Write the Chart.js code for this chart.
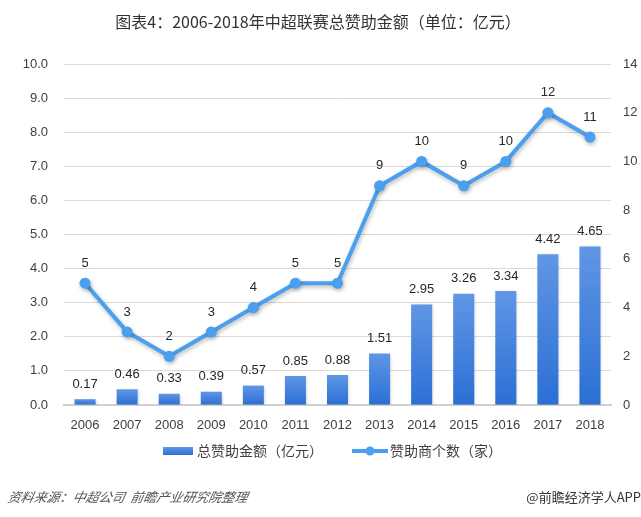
<!DOCTYPE html>
<html>
<head>
<meta charset="utf-8">
<script src="https://cdn.jsdelivr.net/npm/chart.js@4.4.1/dist/chart.umd.min.js"></script>
<style>
  html, body { margin: 0; padding: 0; background: #ffffff; }
  #wrap { width: 641px; height: 517px; position: relative; }
</style>
</head>
<body>
<div id="wrap"><canvas id="c" width="641" height="517"></canvas></div>
<script>
// ---- data ----
const categories = ['2006','2007','2008','2009','2010','2011','2012','2013','2014','2015','2016','2017','2018'];
const sponsorAmount = [0.17, 0.46, 0.33, 0.39, 0.57, 0.85, 0.88, 1.51, 2.95, 3.26, 3.34, 4.42, 4.65];
const sponsorCount = [5, 3, 2, 3, 4, 5, 5, 9, 10, 9, 10, 12, 11];
const leftTickValues = [0,1,2,3,4,5,6,7,8,9,10];
const rightTickValues = [0,2,4,6,8,10,12,14];
const titleText = '图表4：2006-2018年中超联赛总赞助金额（单位：亿元）';
const barLabel = '总赞助金额（亿元）';
const lineLabel = '赞助商个数（家）';
const sourceText = '资料来源：中超公司  前瞻产业研究院整理';
const brandText = '@前瞻经济学人APP';

const FONT = '"Liberation Sans", Arial, "Noto Sans CJK SC", sans-serif';
const CJK = '"Noto Sans CJK SC", "Liberation Sans", sans-serif';
const BAR_TOP = '#6096e5';
const BAR_BOT = '#2b6fd5';
const LINE_COLOR = '#4a9fee';

function barGradient(ctx) {
  const chart = ctx.chart;
  const y = chart.scales && chart.scales.y;
  if (!y || ctx.raw === undefined || !chart.chartArea) return BAR_BOT;
  const top = y.getPixelForValue(ctx.raw);
  const base = y.getPixelForValue(0);
  if (!isFinite(top) || !isFinite(base) || top === base) return BAR_BOT;
  const g = chart.ctx.createLinearGradient(0, top, 0, base);
  g.addColorStop(0, BAR_TOP);
  g.addColorStop(1, BAR_BOT);
  return g;
}

const decorPlugin = {
  id: 'decor',
  beforeDatasetDraw(chart, args) {
    const c = chart.ctx;
    c.save();
    if (args.index === 1) {
      c.shadowColor = 'rgba(0,0,0,0.28)';
      c.shadowBlur = 4;
      c.shadowOffsetX = 1;
      c.shadowOffsetY = 2;
    } else {
      c.shadowColor = 'rgba(0,0,0,0.18)';
      c.shadowBlur = 3;
      c.shadowOffsetX = 1;
      c.shadowOffsetY = 1;
    }
  },
  afterDatasetDraw(chart) {
    chart.ctx.restore();
  },
  afterDatasetsDraw(chart) {
    const c = chart.ctx;
    c.save();
    c.fillStyle = '#262626';
    c.font = '13px ' + FONT;
    c.textAlign = 'center';
    c.textBaseline = 'middle';
    const barMeta = chart.getDatasetMeta(0);
    barMeta.data.forEach((el, i) => {
      c.fillText(sponsorAmount[i].toFixed(2), el.x, el.y - 15);
    });
    const lineMeta = chart.getDatasetMeta(1);
    lineMeta.data.forEach((el, i) => {
      c.fillText(String(sponsorCount[i]), el.x, el.y - 20);
    });
    c.restore();
  },
  afterDraw(chart) {
    const c = chart.ctx;
    c.save();
    // title
    c.fillStyle = '#333333';
    c.font = '16px ' + CJK;
    c.textAlign = 'center';
    c.textBaseline = 'middle';
    c.fillText(titleText, 318, 22);

    // legend
    const ly = 451;
    let g = c.createLinearGradient(0, ly - 4, 0, ly + 4);
    g.addColorStop(0, BAR_TOP);
    g.addColorStop(1, BAR_BOT);
    c.fillStyle = g;
    c.fillRect(163, ly - 4, 30, 8);
    c.fillStyle = '#404040';
    c.font = '14px ' + CJK;
    c.textAlign = 'left';
    c.fillText(barLabel, 197, ly);
    c.strokeStyle = LINE_COLOR;
    c.lineWidth = 4;
    c.beginPath();
    c.moveTo(352, ly);
    c.lineTo(388, ly);
    c.stroke();
    c.fillStyle = LINE_COLOR;
    c.beginPath();
    c.arc(370, ly, 4.5, 0, Math.PI * 2);
    c.fill();
    c.fillStyle = '#404040';
    c.fillText(lineLabel, 390, ly);

    // footer
    c.font = 'italic 13px ' + CJK;
    c.fillStyle = '#555555';
    c.textAlign = 'left';
    c.save();
    c.translate(8, 497);
    c.transform(1, 0, -0.2, 1, 0, 0);
    c.fillText(sourceText, 0, 0);
    c.restore();
    c.font = '13px ' + CJK;
    c.fillStyle = '#333333';
    c.textAlign = 'right';
    c.fillText(brandText, 641, 497);
    c.restore();
  }
};

new Chart(document.getElementById('c'), {
  data: {
    labels: categories,
    datasets: [
      {
        type: 'bar',
        label: barLabel,
        data: sponsorAmount,
        yAxisID: 'y',
        backgroundColor: barGradient,
        borderWidth: 0,
        categoryPercentage: 1.0,
        barPercentage: 0.5,
        order: 2
      },
      {
        type: 'line',
        label: lineLabel,
        data: sponsorCount,
        yAxisID: 'y1',
        borderColor: LINE_COLOR,
        backgroundColor: LINE_COLOR,
        borderWidth: 4,
        pointRadius: 5.5,
        pointBorderWidth: 0,
        pointBackgroundColor: LINE_COLOR,
        tension: 0,
        fill: false,
        order: 1
      }
    ]
  },
  options: {
    responsive: false,
    animation: false,
    devicePixelRatio: 1,
    layout: { padding: { top: 64, left: 0, right: 0, bottom: 0 } },
    plugins: {
      legend: { display: false },
      title: { display: false },
      tooltip: { enabled: false }
    },
    scales: {
      x: {
        offset: true,
        grid: { display: false, drawTicks: false },
        border: { display: true, color: '#d0d0d0', width: 2 },
        ticks: { color: '#404040', font: { size: 13, family: FONT }, padding: 13, maxRotation: 0, autoSkip: false },
        afterFit(s) { s.height = 112; }
      },
      y: {
        position: 'left',
        min: 0, max: 10,
        afterBuildTicks(s) { s.ticks = leftTickValues.map(v => ({ value: v })); },
        grid: { color: '#d9d9d9', lineWidth: 1, drawTicks: false },
        border: { display: false },
        ticks: { color: '#404040', font: { size: 13, family: FONT }, padding: 16, callback: v => Number(v).toFixed(1) },
        afterFit(s) { s.width = 64; }
      },
      y1: {
        position: 'right',
        min: 0, max: 14,
        afterBuildTicks(s) { s.ticks = rightTickValues.map(v => ({ value: v })); },
        grid: { display: false, drawTicks: false },
        border: { display: false },
        ticks: { color: '#404040', font: { size: 13, family: FONT }, padding: 12 },
        afterFit(s) { s.width = 30; }
      }
    }
  },
  plugins: [decorPlugin]
});
</script>
</body>
</html>
